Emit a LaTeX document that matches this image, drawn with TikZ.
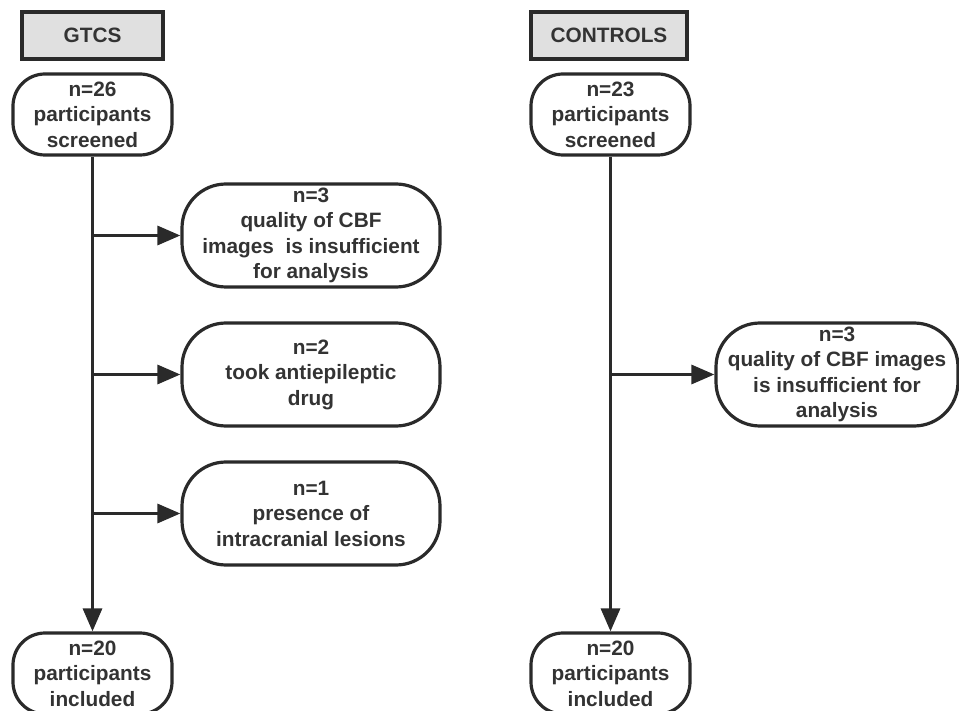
\documentclass[tikz,border=0pt]{standalone}
\usepackage{fontspec}
\setmainfont{Liberation Sans}
\usetikzlibrary{arrows.meta}
\definecolor{linec}{HTML}{2A2A2A}
\definecolor{txtc}{HTML}{333333}
\definecolor{headfill}{HTML}{E0E0E0}
\begin{document}
\begin{tikzpicture}[x=1pt,y=-1pt,
  base/.style={draw=linec, line width=3.2pt, text=txtc, inner sep=0pt, align=center,
    font=\fontsize{20.8}{25.5}\selectfont\bfseries},
  head/.style={base, fill=headfill, minimum height=47pt},
  small/.style={base, minimum width=159pt, minimum height=81pt, rounded corners=32pt},
  big/.style={base, minimum width=258pt, minimum height=103pt, rounded corners=44pt},
  arr/.style={draw=linec, line width=3.2pt, -{Triangle[length=23pt,width=19pt]}}]
\useasboundingbox (0,0) rectangle (959,711);
% left column
\node[head, minimum width=141pt] (hl) at (92.5,35.5) {GTCS};
\node[small] (l1) at (92.5,114.5) {n=26\\participants\\screened};
\node[big] (l2) at (311,235.5) {n=3\\quality of CBF\\images\ \ is insufficient\\for analysis};
\node[big] (l3) at (311,374.5) {n=2\\took antiepileptic\\drug};
\node[big] (l4) at (311,513.5) {n=1\\presence of\\intracranial lesions};
\node[small] (l5) at (92.5,673.5) {n=20\\participants\\included};
\draw[arr] (l1.south) -- (l5.north);
\draw[arr] (l1.south |- l2.west) -- (l2.west);
\draw[arr] (l1.south |- l3.west) -- (l3.west);
\draw[arr] (l1.south |- l4.west) -- (l4.west);
% right column
\node[head, minimum width=156pt] (hr) at (609,35.5) {CONTROLS};
\node[small] (r1) at (610.5,114.5) {n=23\\participants\\screened};
\node[big, minimum width=242pt] (r2) at (837,374.5) {n=3\\quality of CBF images\\is insufficient for\\analysis};
\node[small] (r5) at (610.5,673.5) {n=20\\participants\\included};
\draw[arr] (r1.south) -- (r5.north);
\draw[arr] (r1.south |- r2.west) -- (r2.west);
\end{tikzpicture}
\end{document}
